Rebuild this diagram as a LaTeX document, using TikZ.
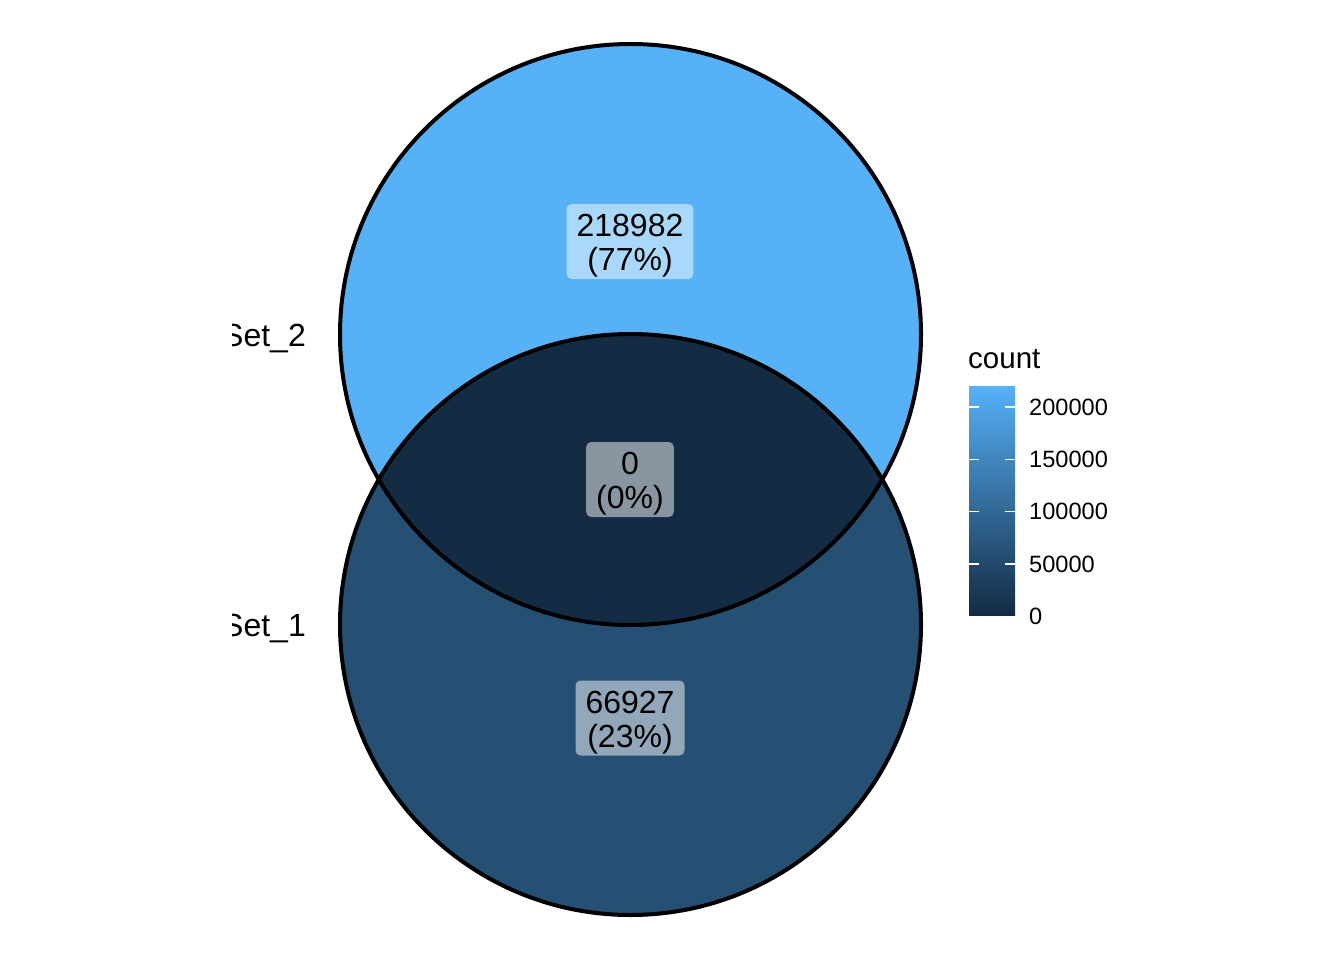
\documentclass[tikz,border=0pt]{standalone}
\usepackage{fontspec}
\setmainfont{Liberation Sans}
\usepackage{tikz}
\usetikzlibrary{positioning}
\definecolor{setlow}{RGB}{19,43,67}
\definecolor{sethigh}{RGB}{86,177,247}
\definecolor{setmid}{RGB}{37,80,116}
\definecolor{setbar}{RGB}{51,106,152}
\newcommand{\labstrut}{\rule{0pt}{31pt}}
\tikzstyle{countlabel} = [fill=white, fill opacity=0.5, text opacity=1,
    rounded corners=5pt, align=center, inner xsep=10pt, inner ysep=0pt,
    minimum height=75pt, font=\fontsize{32}{34}\selectfont]
\tikzstyle{setname} = [anchor=east, inner sep=0pt, font=\fontsize{32}{34}\selectfont]
\tikzset{ticklab/.style={anchor=west, inner sep=0pt, font=\fontsize{23.6}{26}\selectfont}}

\begin{document}
\begin{tikzpicture}[x=1pt, y=-1pt]
\useasboundingbox (0,0) rectangle (1344,960);
\begin{scope}
    %circle centres
    \coordinate (c2) at (630.5,334.5);
    \coordinate (c1) at (630.5,624.5);
    %regions
    \fill[sethigh] (c2) circle (290.5);
    \fill[setmid] (c1) circle (290.5);
    \begin{scope}
        \clip (c2) circle (290.5);
        \fill[setlow] (c1) circle (290.5);
    \end{scope}
    \draw[line width=4pt] (c2) circle (290.5);
    \draw[line width=4pt] (c1) circle (290.5);
    %counts
    \node[countlabel] (n2) at (630,241.5) {\labstrut 218982\\(77\%)};
    \node[countlabel] (n12) at (630,479.5) {\labstrut 0\\(0\%)};
    \node[countlabel] (n1) at (630,718) {\labstrut 66927\\(23\%)};
\end{scope}
%set names, cut at the panel edge
\begin{scope}
    \clip (232,0) rectangle (1344,960);
    \node[setname] (s2) at (306,339) {Set\_2};
    \node[setname] (s1) at (306,629) {Set\_1};
\end{scope}
%legend
\node[anchor=base west, inner sep=0pt, font=\fontsize{29.5}{32}\selectfont] (title) at (968,368) {count};
\shade[top color=sethigh, middle color=setbar, bottom color=setlow] (969,386) rectangle (1015,615);
\foreach \v/\y in {200000/407, 150000/459.3, 100000/511.7, 50000/564} {
    \draw[white, line width=1.2pt] (969,\y) -- (979,\y);
    \draw[white, line width=1.2pt] (1005,\y) -- (1015,\y);
    \node[ticklab] (t\v) at (1029,\y) {\v};
}
\node[ticklab] (t0) at (1029,616.3) {0};
\end{tikzpicture}
\end{document}
